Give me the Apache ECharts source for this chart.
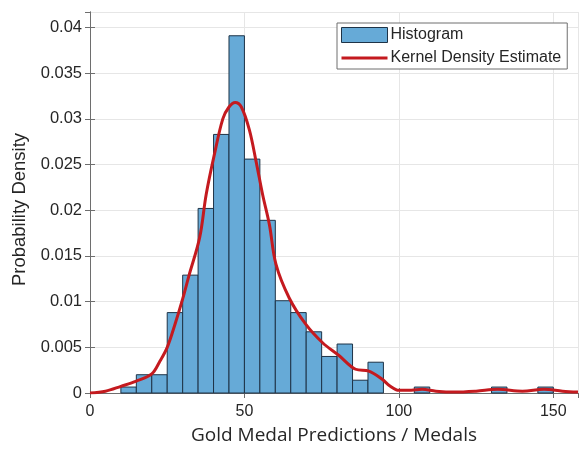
<!DOCTYPE html>
<html>
<head>
<meta charset="utf-8">
<script src="https://cdn.jsdelivr.net/npm/echarts@6/dist/echarts.min.js"></script>
<style>
  html, body { margin: 0; padding: 0; background: #fff; }
  #chart { width: 580px; height: 450px; }
</style>
</head>
<body>
<div id="chart"></div>
<script>
// Histogram bins (left edge, width 5) and their probability densities
const binWidth = 5;
const binLeft = [10, 15, 20, 25, 30, 35, 40, 45, 50, 55, 60, 65, 70, 75, 80, 85, 90, 105, 130, 145];
const binDensity = [0.00065, 0.0020, 0.0020, 0.0088, 0.0129, 0.0202, 0.0283, 0.0391, 0.0256, 0.0189,
                    0.0101, 0.0088, 0.0067, 0.0040, 0.00536, 0.0014, 0.00337, 0.00065, 0.00065, 0.00065];

// Kernel density estimate curve
const kdeX = [0, 5, 10, 15, 20, 22.5, 25, 27.5, 30, 32, 35.5, 37.6, 40.2, 43, 45, 47, 49, 51.6, 53.8,
              55.9, 58.1, 60.2, 64.5, 69.9, 75.3, 80.6, 86, 90.3, 94.6, 97, 100, 104, 107.5, 112, 118, 125,
              132, 140, 147, 153, 158];
const kdeY = [0, 0.0002, 0.00073, 0.0013, 0.0021, 0.0034, 0.005, 0.0075, 0.0103, 0.0128, 0.017, 0.0217,
              0.026, 0.0300, 0.0313, 0.0318, 0.0313, 0.0288, 0.0253, 0.0217, 0.0184, 0.0141, 0.0104, 0.0075,
              0.0055, 0.0041, 0.0026, 0.0024, 0.0015, 0.0008, 0.0003, 0.0003, 0.0004, 0.0002, 0.0001, 0.0002,
              0.0004, 0.0002, 0.0004, 0.0002, 0.0001];

// Axis ranges and ticks
const xMin = 0, xMax = 158, xStep = 50;
const yMin = 0, yMax = 0.0417, yStep = 0.005;

const histData = binLeft.map((x, i) => [x, x + binWidth, binDensity[i]]);
const kdeData = kdeX.map((x, i) => [x, kdeY[i]]);

const barFill = '#66aad7', barEdge = '#1e3347', kdeColor = '#c41a1f';
const tickFont = { fontFamily: 'Liberation Sans', fontSize: 16, color: '#262626' };
const gridLine = { show: true, lineStyle: { color: '#e6e6e6', width: 1 } };
const frameLine = { show: true, lineStyle: { color: '#6e6e6e', width: 1 } };
const innerTick = { show: true, inside: true, length: 5, lineStyle: { color: '#6e6e6e' } };

// legend glyph: a 3px horizontal stroke inside a 46x15 box
const lineGlyph = 'path://M0,6H46V9H0Z M0,0H0.01V0.01H0Z M46,15H45.99V14.99H46Z';

const chart = echarts.init(document.getElementById('chart'), null, { renderer: 'canvas' });
chart.setOption({
  animation: false,
  backgroundColor: '#ffffff',
  grid: { left: 90, right: 2, top: 12, bottom: 54, containLabel: false },
  legend: {
    orient: 'vertical',
    left: 337,
    top: 23,
    padding: [4, 6, 3, 4],
    itemGap: 7,
    itemWidth: 46,
    itemHeight: 15,
    borderColor: '#6e6e6e',
    borderWidth: 1,
    backgroundColor: '#ffffff',
    textStyle: { fontFamily: 'Liberation Sans', fontSize: 16, color: '#262626', padding: [0, 0, 0, -2] },
    data: [
      { name: 'Histogram', icon: 'rect', itemStyle: { color: barFill, borderColor: barEdge, borderWidth: 1 } },
      { name: 'Kernel Density Estimate', icon: lineGlyph, itemStyle: { color: kdeColor, borderWidth: 0 } }
    ]
  },
  xAxis: [
    {
      type: 'value', min: xMin, max: xMax, interval: xStep,
      axisLine: frameLine, axisTick: innerTick, splitLine: gridLine,
      axisLabel: Object.assign({ margin: 11, showMaxLabel: false }, tickFont),
      name: 'Gold Medal Predictions / Medals',
      nameLocation: 'middle', nameGap: 33,
      nameTextStyle: { fontFamily: 'Open Sans', fontSize: 19, color: '#262626' }
    },
    {
      type: 'value', position: 'top', min: xMin, max: xMax, interval: xStep,
      axisLine: frameLine, axisTick: innerTick, splitLine: { show: false }, axisLabel: { show: false }
    }
  ],
  yAxis: [
    {
      type: 'value', min: yMin, max: yMax, interval: yStep,
      axisLine: frameLine, axisTick: innerTick, splitLine: gridLine,
      axisLabel: Object.assign({ margin: 8, showMaxLabel: false,
        formatter: v => (Math.round(v * 1000) / 1000).toString() }, tickFont, { fontSize: 16.5 }),
      name: 'Probability Density',
      nameLocation: 'middle', nameGap: 56,
      nameTextStyle: { fontFamily: 'Liberation Sans', fontSize: 18.5, color: '#262626', padding: [0, 14, 0, 0] }
    },
    {
      type: 'value', position: 'right', min: yMin, max: yMax, interval: yStep,
      axisLine: frameLine, axisTick: innerTick, splitLine: { show: false }, axisLabel: { show: false }
    }
  ],
  series: [
    {
      name: 'Histogram',
      type: 'custom',
      xAxisIndex: 0, yAxisIndex: 0,
      itemStyle: { color: barFill, borderColor: barEdge, borderWidth: 1 },
      encode: { x: [0, 1], y: 2 },
      data: histData,
      renderItem: function (params, api) {
        const p0 = api.coord([api.value(0), api.value(2)]);
        const p1 = api.coord([api.value(1), 0]);
        return {
          type: 'rect',
          shape: { x: p0[0], y: p0[1], width: p1[0] - p0[0], height: p1[1] - p0[1] },
          style: { fill: barFill, stroke: barEdge, lineWidth: 1 }
        };
      }
    },
    {
      name: 'Kernel Density Estimate',
      type: 'line',
      xAxisIndex: 0, yAxisIndex: 0,
      data: kdeData,
      smooth: 0.35,
      symbol: 'none',
      clip: true,
      lineStyle: { color: kdeColor, width: 3 },
      itemStyle: { color: kdeColor },
      z: 5
    }
  ]
});
</script>
</body>
</html>
